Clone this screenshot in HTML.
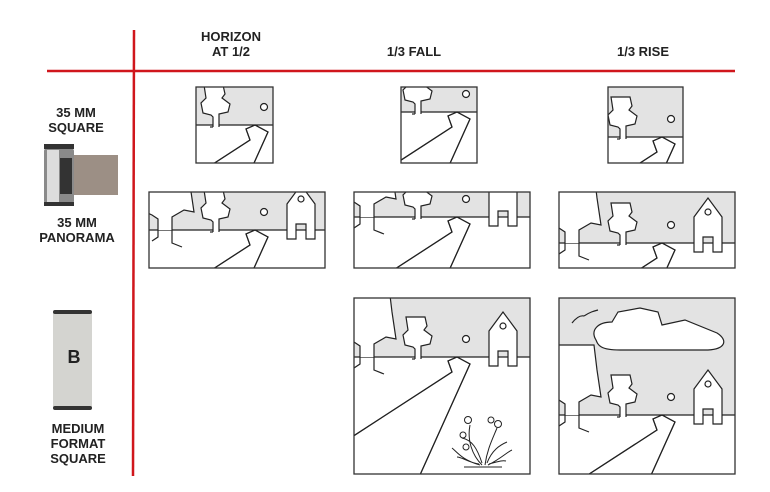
<!DOCTYPE html>
<html><head><meta charset="utf-8"><style>
html,body{margin:0;padding:0;background:#fff;width:770px;height:492px;overflow:hidden;}
svg{display:block;}
text{font-family:"Liberation Sans",sans-serif;font-weight:bold;fill:#222;text-anchor:middle;}
</style></head><body>
<svg width="770" height="492" viewBox="0 0 770 492" xmlns="http://www.w3.org/2000/svg">
<defs>
<g id="scene" stroke="#222" stroke-width="1.2" fill="none">
  <rect x="-400" y="-300" width="800" height="300" fill="#e3e3e3" stroke="none"/>
  <line x1="-400" y1="0" x2="400" y2="0"/>
  <path d="M-400,-70 L-68,-70 L-65,-45 L-61,-18 L-71,-20 L-83,-13 L-83,0 L-97,0 L-97,-11 L-103,-15 L-400,-15 Z" fill="#fff" stroke="none"/>
  <polyline points="-400,-70 -68,-70 -65,-45 -61,-18 -71,-20 -83,-13 -83,13 -73,17"/>
  <polyline points="-110,-18 -103,-15 -97,-11 -97,7 -103,11"/>
  <path transform="translate(-39,0)" d="M-3,2 L-3,-8 L-5,-10 L-13,-12 L-15,-22 L-10,-27 L-12,-40 L7,-40 L9,-31 L6,-27 L14,-21 L12,-13 L3,-11 L3,2" fill="#fff"/>
  <polyline points="-45,2 -42,2 M-36,2 -33,2"/>
  <circle cx="9" cy="-18" r="3.5" fill="#fff"/>
  <path transform="translate(46,0)" d="M-14,9 L-14,-26 L0,-45 L14,-26 L14,9 L5,9 L5,-6 L-5,-6 L-5,9 Z" fill="#fff"/>
  <circle cx="46" cy="-31" r="3" fill="#fff"/>
  <path d="M-290,200 L-5,15 L-9,4 L0,0 L13,7 L-74,200" fill="#fff"/>
  <polyline points="-290,200 -5,15 -9,4 0,0 13,7 -74,200"/>
  <path d="M-66,-75 C-72,-85 -64,-93 -50,-93 L-44,-103 L-22,-107 L-4,-103 L0,-90 L23,-95 L55,-82 C66,-75 64,-66 46,-65 L-42,-65 C-62,-65 -64,-70 -66,-75 Z" fill="#fff"/>
  <path d="M-90,-92 C-86,-97 -82,-100 -78,-99 M-78,-99 C-72,-103 -68,-104 -64,-105"/>
  <g transform="translate(25,108)" stroke-width="1">
   <path d="M0,0 C-10,-10 -15,-25 -12,-40 M3,0 C5,-15 10,-25 15,-37 M-2,0 C-20,-5 -25,-13 -30,-17 M6,0 C20,-7 25,-13 30,-15 M0,-2 C-5,-17 -10,-25 -20,-27 M5,-2 C10,-15 18,-20 25,-23 M-3,-1 C-15,-3 -20,-8 -25,-8 M7,-1 C15,-3 20,-5 24,-4"/>
   <circle cx="-14" cy="-45" r="3.5" fill="#fff"/><circle cx="16" cy="-41" r="3.5" fill="#fff"/><circle cx="9" cy="-45" r="3" fill="#fff"/><circle cx="-19" cy="-30" r="3" fill="#fff"/><circle cx="-16" cy="-18" r="3" fill="#fff"/>
   <line x1="-18" y1="2" x2="20" y2="2"/>
  </g>
</g>
<clipPath id="c1"><rect x="196" y="87" width="77" height="76"/></clipPath>
<clipPath id="c2"><rect x="401" y="87" width="76" height="76"/></clipPath>
<clipPath id="c3"><rect x="608" y="87" width="75" height="76"/></clipPath>
<clipPath id="c4"><rect x="149" y="192" width="176" height="76"/></clipPath>
<clipPath id="c5"><rect x="354" y="192" width="176" height="76"/></clipPath>
<clipPath id="c6"><rect x="559" y="192" width="176" height="76"/></clipPath>
<clipPath id="c7"><rect x="354" y="298" width="176" height="176"/></clipPath>
<clipPath id="c8"><rect x="559" y="298" width="176" height="176"/></clipPath>
</defs>

<line x1="134" y1="30" x2="133" y2="476" stroke="#d0161c" stroke-width="2.5"/>
<line x1="47" y1="71" x2="735" y2="71" stroke="#d0161c" stroke-width="2.5"/>

<text x="231" y="41" font-size="13">HORIZON</text>
<text x="231" y="56" font-size="13">AT 1/2</text>
<text x="414" y="56" font-size="13">1/3 FALL</text>
<text x="643" y="56" font-size="13">1/3 RISE</text>
<text x="76" y="117" font-size="13">35 MM</text>
<text x="76" y="132" font-size="13">SQUARE</text>
<text x="77" y="227" font-size="13">35 MM</text>
<text x="77" y="242" font-size="13">PANORAMA</text>
<text x="78" y="433" font-size="13">MEDIUM</text>
<text x="78" y="448" font-size="13">FORMAT</text>
<text x="78" y="463" font-size="13">SQUARE</text>

<rect x="72" y="155" width="46" height="40" fill="#9c8f85"/>
<rect x="44" y="148" width="30" height="56" rx="3" fill="#8a8a8a"/>
<rect x="47" y="150" width="12" height="52" fill="#ddd"/>
<rect x="60" y="158" width="12" height="36" fill="#333"/>
<rect x="44" y="144" width="30" height="5" fill="#333"/>
<rect x="44" y="202" width="30" height="4" fill="#333"/>
<rect x="53" y="312" width="39" height="96" fill="#d4d4d0"/>
<rect x="53" y="310" width="39" height="4" rx="2" fill="#333"/>
<rect x="53" y="406" width="39" height="4" rx="2" fill="#333"/>
<text x="74" y="363" font-size="18">B</text>

<g clip-path="url(#c1)"><use href="#scene" transform="translate(255,125)"/></g>
<rect x="196" y="87" width="77" height="76" fill="none" stroke="#333" stroke-width="1.3"/>
<g clip-path="url(#c2)"><use href="#scene" transform="translate(457,112)"/></g>
<rect x="401" y="87" width="76" height="76" fill="none" stroke="#333" stroke-width="1.3"/>
<g clip-path="url(#c3)"><use href="#scene" transform="translate(662,137)"/></g>
<rect x="608" y="87" width="75" height="76" fill="none" stroke="#333" stroke-width="1.3"/>
<g clip-path="url(#c4)"><use href="#scene" transform="translate(255,230)"/></g>
<rect x="149" y="192" width="176" height="76" fill="none" stroke="#333" stroke-width="1.3"/>
<g clip-path="url(#c5)"><use href="#scene" transform="translate(457,217)"/></g>
<rect x="354" y="192" width="176" height="76" fill="none" stroke="#333" stroke-width="1.3"/>
<g clip-path="url(#c6)"><use href="#scene" transform="translate(662,243)"/></g>
<rect x="559" y="192" width="176" height="76" fill="none" stroke="#333" stroke-width="1.3"/>
<g clip-path="url(#c7)"><use href="#scene" transform="translate(457,357)"/></g>
<rect x="354" y="298" width="176" height="176" fill="none" stroke="#333" stroke-width="1.3"/>
<g clip-path="url(#c8)"><use href="#scene" transform="translate(662,415)"/></g>
<rect x="559" y="298" width="176" height="176" fill="none" stroke="#333" stroke-width="1.3"/>
</svg>
</body></html>
